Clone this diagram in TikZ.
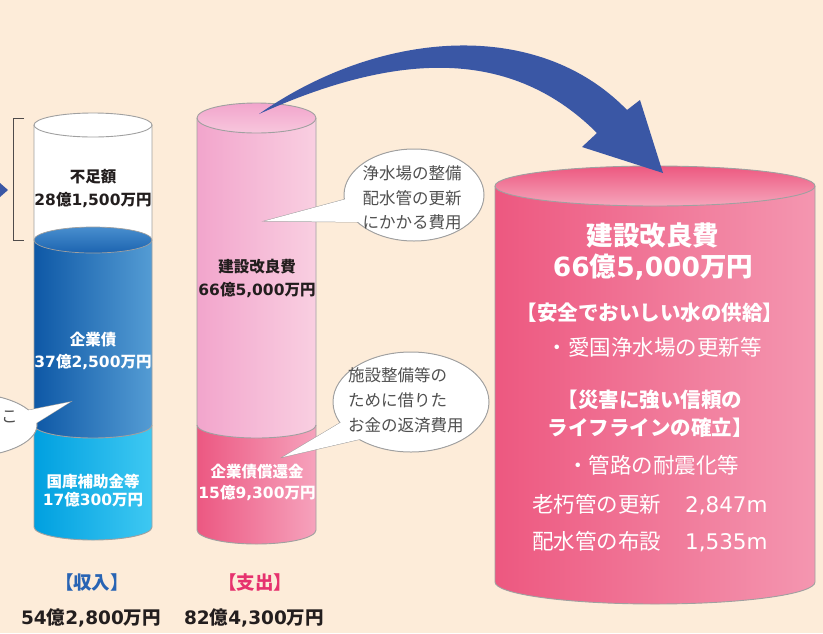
\documentclass[tikz,border=0pt]{standalone}
\usepackage{fontspec}
\setmainfont{Noto Sans CJK JP}
\newfontfamily\nf{DejaVu Sans}
\newcommand\NM[1]{{\nf #1}}
\definecolor{bgc}{RGB}{253,236,217}
\definecolor{cylgray}{RGB}{160,160,160}
\definecolor{txtdark}{RGB}{35,30,30}
\definecolor{bubtxt}{RGB}{80,80,80}
\definecolor{dbL}{RGB}{14,88,166}
\definecolor{dbR}{RGB}{84,156,212}
\definecolor{lbL}{RGB}{0,160,224}
\definecolor{lbR}{RGB}{62,200,242}
\definecolor{surfT}{RGB}{72,142,206}
\definecolor{surfB}{RGB}{28,100,176}
\definecolor{pkL}{RGB}{242,165,204}
\definecolor{pkR}{RGB}{249,207,225}
\definecolor{dpL}{RGB}{236,88,130}
\definecolor{dpR}{RGB}{246,162,188}
\definecolor{bgL}{RGB}{237,88,128}
\definecolor{bgR}{RGB}{244,150,176}
\definecolor{arrowblue}{RGB}{58,87,165}
\definecolor{inblue}{RGB}{40,100,180}
\definecolor{outred}{RGB}{230,50,110}
\tikzset{
  edge/.style={draw=cylgray, line width=0.9pt},
  lbl/.style={inner sep=0pt, text=txtdark, font=\bfseries\fontsize{15.5}{18}\selectfont},
  wlbl/.style={lbl, text=white},
  bubtext/.style={inner sep=0pt, text=bubtxt, font=\fontsize{16.5}{20}\selectfont},
  bigtitle/.style={inner sep=0pt, text=white, font=\bfseries\fontsize{26.5}{30}\selectfont},
  bighead/.style={inner sep=0pt, text=white, font=\bfseries\fontsize{20.5}{24}\selectfont},
  bigline/.style={inner sep=0pt, text=white, font=\fontsize{21.5}{25}\selectfont},
  foot/.style={inner sep=0pt, font=\bfseries\fontsize{18.5}{21}\selectfont},
  bubble/.style={fill=white, draw=cylgray, line width=1pt},
  bubblefill/.style={fill=white}
}
\begin{document}
\begin{tikzpicture}[x=1pt,y=-1pt]
\useasboundingbox (0,0) rectangle (823,633);
\fill[bgc] (0,0) rectangle (823,633);
\clip (0,0) rectangle (823,633);

% ---------- left marker and bracket ----------
\fill[arrowblue] (0,183) -- (8,190) -- (0,197) -- cycle;
\draw[txtdark!80, line width=1pt] (24,118) -- (13,118) -- (13,240) -- (24,240);

% ---------- left cylinder (income) ----------
\path[left color=lbL, right color=lbR] (34,425) -- (34,527) arc[start angle=180,end angle=0,x radius=59,y radius=13] -- (152,425) -- cycle;
\path[fill=white] (34,125) rectangle (152,240);
\path[left color=dbL, right color=dbR] (34,240) -- (34,425) arc[start angle=180,end angle=0,x radius=59,y radius=13] -- (152,240) -- cycle;
\path[draw=cylgray, line width=0.7pt, top color=surfT, bottom color=surfB] (93,240) ellipse [x radius=59, y radius=13];
\path[draw=cylgray, line width=0.9pt, fill=white] (93,125) ellipse [x radius=59, y radius=12];
\draw[edge] (34,125) -- (34,527) arc[start angle=180,end angle=0,x radius=59,y radius=13] -- (152,125);
\draw[edge] (34,425) arc[start angle=180,end angle=0,x radius=59,y radius=13];

% ---------- middle cylinder (expenditure) ----------
\path[left color=dpL, right color=dpR] (197,425) -- (197,530) arc[start angle=180,end angle=0,x radius=59.5,y radius=14] -- (316,425) -- cycle;
\path[left color=pkL, right color=pkR] (197,118) -- (197,425) arc[start angle=180,end angle=0,x radius=59.5,y radius=13] -- (316,118) -- cycle;
\path[draw=cylgray, line width=0.9pt, top color=pkL, bottom color=pkR!80!pkL] (256.5,118) ellipse [x radius=59.5, y radius=15];
\draw[edge] (197,118) -- (197,530) arc[start angle=180,end angle=0,x radius=59.5,y radius=14] -- (316,118);
\draw[edge] (197,425) arc[start angle=180,end angle=0,x radius=59.5,y radius=13];

% ---------- big cylinder ----------
\path[left color=bgL, right color=bgR] (495,186) -- (495,582) arc[start angle=180,end angle=0,x radius=160,y radius=22] -- (815,186) -- cycle;
\path[draw=cylgray, line width=0.9pt, top color=bgL, bottom color=bgR!85!white] (655,186) ellipse [x radius=160, y radius=20];
\draw[edge] (495,186) -- (495,582) arc[start angle=180,end angle=0,x radius=160,y radius=22] -- (815,186);

% ---------- speech bubbles ----------
% left (cut off)
\path[bubble] (70,402) -- (20,412) -- (25,430) -- cycle;
\path[bubble] (-36,425) ellipse [x radius=73, y radius=32];
\path[bubblefill] (70,402) -- (20,412) -- (25,430) -- cycle;
\path[bubblefill] (-36,425) ellipse [x radius=72, y radius=31];
% bubble 1
\path[bubble] (265,221) -- (350,198) -- (360,222) -- cycle;
\path[bubble] (414,195) ellipse [x radius=70, y radius=46];
\path[bubblefill] (265,221) -- (350,198) -- (360,222) -- cycle;
\path[bubblefill] (414,195) ellipse [x radius=69, y radius=45];
% bubble 2
\path[bubble] (283,457) -- (345,420) -- (365,438) -- cycle;
\path[bubble] (411,402) ellipse [x radius=78, y radius=50];
\path[bubblefill] (283,457) -- (345,420) -- (365,438) -- cycle;
\path[bubblefill] (411,402) ellipse [x radius=77, y radius=49];

% ---------- big curved arrow ----------
\fill[arrowblue] (259,114) .. controls (379,30) and (537,17) .. (627,110)
  -- (640,100) -- (663,173) -- (582,147) -- (597,133)
  .. controls (507,43) and (389,55.5) .. (259,114) -- cycle;

% ---------- texts ----------
\node[lbl] (fusoku) at (93,177) {不足額};
\node[lbl] (fusokuv) at (93,200) {\NM{28}億\NM{1,500}万円};
\node[wlbl] (kigyo) at (93,340) {企業債};
\node[wlbl] (kigyov) at (93,362) {\NM{37}億\NM{2,500}万円};
\node[wlbl] (kokko) at (93,482) {国庫補助金等};
\node[wlbl] (kokkov) at (93,500) {\NM{17}億\NM{300}万円};

\node[lbl] (kensetsu) at (257,267) {建設改良費};
\node[lbl] (kensetsuv) at (257,290) {\NM{66}億\NM{5,000}万円};
\node[wlbl] (shokan) at (257,472) {企業債償還金};
\node[wlbl] (shokanv) at (257,493) {\NM{15}億\NM{9,300}万円};

\node[bubtext] (b1a) at (412,173) {浄水場の整備};
\node[bubtext] (b1b) at (412,198) {配水管の更新};
\node[bubtext] (b1c) at (412,222) {にかかる費用};
\node[bubtext, anchor=west] (b2a) at (348,375) {施設整備等の};
\node[bubtext, anchor=west] (b2b) at (348,400) {ために借りた};
\node[bubtext, anchor=west] (b2c) at (348,425) {お金の返済費用};
\node[bubtext, anchor=west] (b0) at (1,417) {こ};

\node[bigtitle] (bt1) at (653,235) {建設改良費};
\node[bigtitle] (bt2) at (653,267) {\NM{66}億\NM{5,000}万円};
\node[bighead] (bh1) at (650,313) {【安全でおいしい水の供給】};
\node[bigline] (bl1) at (654,347) {・愛国浄水場の更新等};
\node[bighead] (bh2) at (650,400) {【災害に強い信頼の};
\node[bighead] (bh3) at (650,428) {ライフラインの確立】};
\node[bigline] (bl2) at (653,465) {・管路の耐震化等};
\node[bigline] (bl3) at (650,505) {老朽管の更新\hspace{1.1em}\NM{2,847m}};
\node[bigline] (bl4) at (650,542) {配水管の布設\hspace{1.1em}\NM{1,535m}};

\node[foot, text=inblue] (inc) at (92,582) {【収入】};
\node[foot, text=outred] (out) at (255,582) {【支出】};
\node[foot, text=txtdark] (incv) at (91,618) {\NM{54}億\NM{2,800}万円};
\node[foot, text=txtdark] (outv) at (254,618) {\NM{82}億\NM{4,300}万円};
\end{tikzpicture}
\end{document}
